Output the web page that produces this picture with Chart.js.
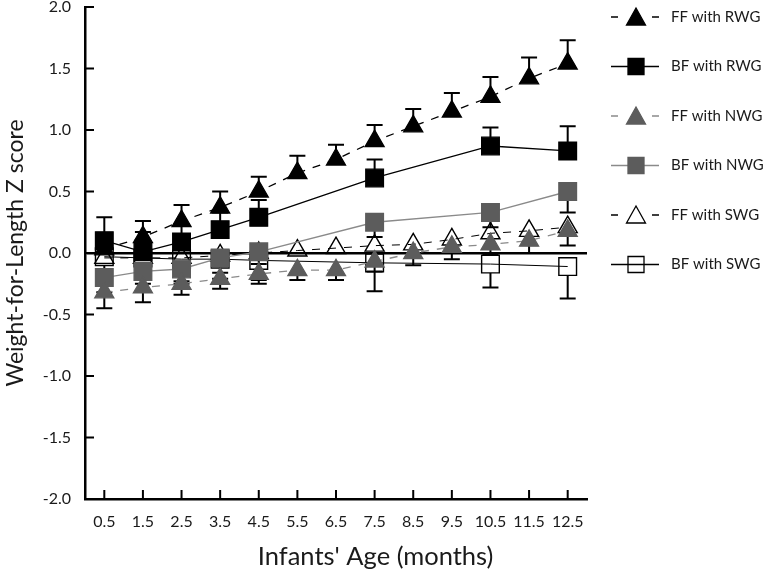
<!DOCTYPE html>
<html>
<head>
<meta charset="utf-8">
<script src="https://cdn.jsdelivr.net/npm/chart.js@4.4.1/dist/chart.umd.min.js"></script>
<style>
html,body{margin:0;padding:0;background:#fff;}
#wrap{width:769px;height:575px;position:relative;}
</style>
</head>
<body>
<div id="wrap"><canvas id="c" width="769" height="575"></canvas></div>
<script>
// ---- data ----
const ages = ['0.5','1.5','2.5','3.5','4.5','5.5','6.5','7.5','8.5','9.5','10.5','11.5','12.5'];
const yTicks = [-2.0,-1.5,-1.0,-0.5,0.0,0.5,1.0,1.5,2.0];
const seriesNames = ['FF with RWG','BF with RWG','FF with NWG','BF with NWG','FF with SWG','BF with SWG'];
const xTitle = "Infants' Age (months)";
const yTitle = 'Weight-for-Length Z score';

const ffRWG     = [0.03, 0.13, 0.26, 0.37, 0.50, 0.65, 0.76, 0.91, 1.03, 1.15, 1.27, 1.42, 1.54];
const ffRWGErr  = [0.12, 0.13, 0.13, 0.13, 0.12, 0.14, 0.12, 0.13, 0.14, 0.15, 0.16, 0.17, 0.19];
const bfRWG     = [0.10, 0.01, 0.09, 0.19, 0.29, null, null, 0.61, null, null, 0.87, null, 0.83];
const bfRWGErr  = [0.19, 0.16, 0.14, 0.14, 0.14, null, null, 0.15, null, null, 0.15, null, 0.20];
const ffNWG     = [-0.32, -0.28, -0.25, -0.21, -0.17, -0.14, -0.14, -0.07, 0.00, 0.05, 0.07, 0.10, 0.18];
const ffNWGErr  = [0.13, 0.12, 0.09, 0.08, 0.08, 0.08, 0.08, 0.08, 0.10, 0.10, 0.08, 0.10, 0.12];
const bfNWG     = [-0.20, -0.15, -0.13, -0.04, 0.01, null, null, 0.25, null, null, 0.33, null, 0.50];
const bfNWGErr  = [0.12, 0.10, 0.12, 0.12, 0.10, null, null, 0.12, null, null, 0.12, null, 0.17];
const ffSWG     = [-0.04, -0.04, -0.04, -0.02, 0.00, 0.02, 0.04, 0.06, 0.07, 0.11, 0.16, 0.18, 0.21];
const bfSWG     = [-0.03, -0.04, -0.05, -0.05, -0.06, null, null, -0.08, null, null, -0.09, null, -0.11];
const bfSWGErr  = [0.18, 0.15, 0.18, 0.16, 0.16, null, null, 0.23, null, null, 0.19, null, 0.26];

const FONT = 'Lato, "Open Sans", sans-serif';
const GRAY = '#5c5c5c';
const LGRAY = '#8a8a8a';
const NONE = 'rgba(255,255,255,0)';

function ds(label, data, opts){
  return Object.assign({
    label, data, spanGaps:true, tension:0, borderWidth:1.3,
    pointRadius:11, pointHoverRadius:11, pointBorderWidth:1.3
  }, opts);
}

const datasets = [
  ds(seriesNames[0], ffRWG, {pointStyle:'triangle', borderColor:'#000', backgroundColor:'#000', pointBackgroundColor:'#000', pointBorderColor:'#000', borderDash:[8,8], errors:ffRWGErr, errDir:1, errColor:'#000', errGap:0}),
  ds(seriesNames[1], bfRWG, {pointStyle:'rect', pointRadius:12.5, pointHoverRadius:12.5, borderColor:'#000', backgroundColor:'#000', pointBackgroundColor:'#000', pointBorderColor:'#000', errors:bfRWGErr, errDir:1, errColor:'#000', errGap:0}),
  ds(seriesNames[2], ffNWG, {pointStyle:'triangle', borderColor:LGRAY, backgroundColor:GRAY, pointBackgroundColor:GRAY, pointBorderColor:GRAY, borderDash:[8,8], errors:ffNWGErr, errDir:-1, errColor:'#000', errGap:0}),
  ds(seriesNames[3], bfNWG, {pointStyle:'rect', pointRadius:12.5, pointHoverRadius:12.5, borderColor:LGRAY, backgroundColor:GRAY, pointBackgroundColor:GRAY, pointBorderColor:GRAY, errors:bfNWGErr, errDir:-1, errColor:'#000', errGap:0}),
  ds(seriesNames[4], ffSWG, {pointStyle:'triangle', borderColor:'#000', backgroundColor:NONE, pointBackgroundColor:NONE, pointBorderColor:'#000', borderDash:[8,8], borderWidth:1, pointBorderWidth:1.4}),
  ds(seriesNames[5], bfSWG, {pointStyle:'rect', pointRadius:12.5, pointHoverRadius:12.5, borderColor:'#000', backgroundColor:NONE, pointBackgroundColor:NONE, pointBorderColor:'#000', borderWidth:1, pointBorderWidth:1.4, errors:bfSWGErr, errDir:-1, errColor:'#000', errGap:9})
];

// error bars drawn just before each dataset (hollow markers: stem starts at the marker edge)
const errorBars = {
  id:'errorBars',
  beforeDatasetDraw(chart, args){
    const d = chart.data.datasets[args.index];
    if(!d.errors) return;
    const meta = chart.getDatasetMeta(args.index);
    const y = chart.scales.y, ctx = chart.ctx;
    ctx.save();
    ctx.strokeStyle = d.errColor; ctx.lineWidth = 2; ctx.setLineDash([]);
    d.data.forEach((v,i)=>{
      if(v===null || d.errors[i]==null) return;
      const px = meta.data[i].x;
      const y0 = y.getPixelForValue(v) - d.errDir*(d.errGap||0);
      const y1 = y.getPixelForValue(v + d.errDir*d.errors[i]);
      ctx.beginPath();
      ctx.moveTo(px,y0); ctx.lineTo(px,y1);
      ctx.moveTo(px-8,y1); ctx.lineTo(px+8,y1);
      ctx.stroke();
    });
    ctx.restore();
  }
};

// inward tick marks on both axes + x axis title
const innerTicks = {
  id:'innerTicks',
  afterDraw(chart){
    const ctx = chart.ctx, xs = chart.scales.x, ys = chart.scales.y, a = chart.chartArea;
    ctx.save(); ctx.strokeStyle='#000'; ctx.lineWidth=2;
    ctx.beginPath();
    xs.ticks.forEach((t,i)=>{ const px = xs.getPixelForTick(i); ctx.moveTo(px,a.bottom); ctx.lineTo(px,a.bottom-9); });
    ys.ticks.forEach((t,i)=>{ const py = ys.getPixelForTick(i); ctx.moveTo(a.left,py); ctx.lineTo(a.left+9,py); });
    ctx.stroke();
    // x title, sitting right of the plot centre as in the original
    const cx = xs.getPixelForTick(7) + 1;
    ctx.fillStyle = '#1a1a1a'; ctx.font = '25.5px ' + FONT;
    ctx.textAlign = 'center'; ctx.textBaseline = 'alphabetic';
    ctx.fillText(xTitle, cx, 565);
    ctx.restore();
  }
};

// legend on the right: line + marker + text
const sideLegend = {
  id:'sideLegend',
  afterDraw(chart){
    const ctx = chart.ctx;
    const ys0 = 17, step = 49.5;
    chart.data.datasets.forEach((d,i)=>{
      const cy = ys0 + i*step, cx = 636;
      ctx.save();
      ctx.strokeStyle = d.borderColor; ctx.lineWidth = 1.5;
      if(d.borderDash){
        ctx.beginPath(); ctx.moveTo(611,cy); ctx.lineTo(618,cy); ctx.moveTo(652,cy); ctx.lineTo(659,cy); ctx.stroke();
      } else {
        ctx.beginPath(); ctx.moveTo(611,cy); ctx.lineTo(659,cy); ctx.stroke();
      }
      ctx.fillStyle = d.pointBackgroundColor; ctx.strokeStyle = d.pointBorderColor; ctx.lineWidth = 1.3;
      ctx.beginPath();
      if(d.pointStyle==='triangle'){
        ctx.moveTo(cx, cy - 9);
        ctx.lineTo(cx + 9.5, cy + 8);
        ctx.lineTo(cx - 9.5, cy + 8);
        ctx.closePath();
      } else {
        ctx.rect(cx-8, cy-8, 16, 16);
      }
      ctx.fill(); ctx.stroke();
      ctx.fillStyle = '#1a1a1a'; ctx.font = '15px ' + FONT;
      ctx.textAlign='left'; ctx.textBaseline='middle';
      ctx.fillText(d.label, 671, cy);
      ctx.restore();
    });
  }
};

new Chart(document.getElementById('c'), {
  type:'line',
  data:{ labels: ages, datasets },
  plugins:[errorBars, innerTicks, sideLegend],
  options:{
    responsive:false, animation:false,
    layout:{ autoPadding:false, padding:{ left:0, right:182, top:7, bottom:0 } },
    plugins:{ legend:{display:false}, tooltip:{enabled:false} },
    scales:{
      x:{
        type:'category', offset:true,
        grid:{ display:false, drawTicks:false },
        border:{ display:true, color:'#000', width:2.5 },
        ticks:{ color:'#1a1a1a', font:{family:FONT, size:16}, padding:13, maxRotation:0, autoSkip:false },
        title:{ display:false },
        afterFit(s){ s.height = 76; s.paddingLeft = 0; s.paddingRight = 0; }
      },
      y:{
        min:-2, max:2,
        afterBuildTicks(s){ s.ticks = yTicks.map(v=>({value:v})); },
        grid:{ drawTicks:false, lineWidth:(c)=> (c.tick && c.tick.value===0 ? 2.5 : 0), color:(c)=> (c.tick && c.tick.value===0 ? '#000' : 'rgba(0,0,0,0)') },
        border:{ display:true, color:'#000', width:2.5 },
        ticks:{ color:'#1a1a1a', font:{family:FONT, size:16}, padding:14, callback:(v)=>Number(v).toFixed(1) },
        title:{ display:true, text:yTitle, color:'#1a1a1a', font:{family:FONT, size:23}, padding:{top:2,bottom:4} },
        afterFit(s){ s.width = 85; s.paddingTop = 0; s.paddingBottom = 0; }
      }
    }
  }
});
</script>
</body>
</html>
